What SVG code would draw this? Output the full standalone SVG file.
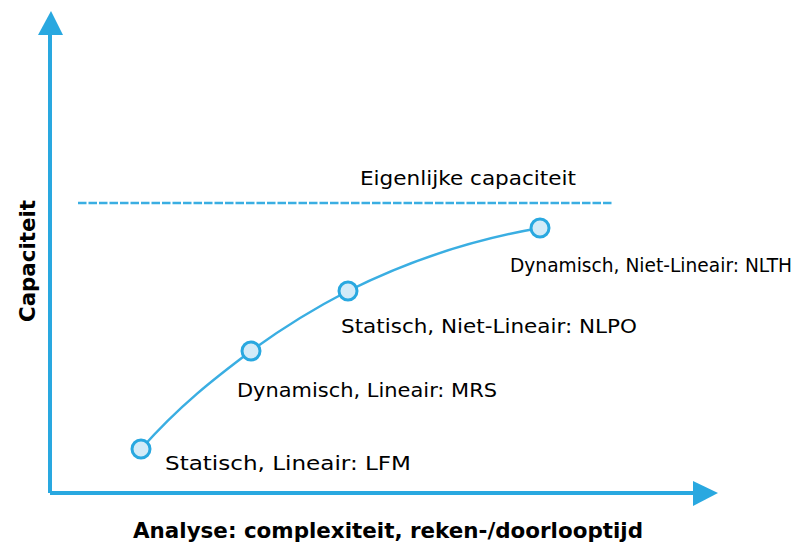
<svg xmlns="http://www.w3.org/2000/svg" width="809" height="546" viewBox="0 0 809 546">
<style>
.ax{stroke:#29a8e0;stroke-width:4;fill:none}
.ah{fill:#29a8e0}
.cur{stroke:#3aaee2;stroke-width:2.5;fill:none}
.dash{stroke:#3aaee2;stroke-width:2.5;stroke-dasharray:8.5 2;fill:none}
.pt{fill:#d3ebf8;stroke:#29a8e0;stroke-width:3}
.t{font-family:"DejaVu Sans","Liberation Sans",sans-serif;font-size:20px;fill:#000}
.b{font-weight:bold;font-size:22px}
</style>
<rect width="809" height="546" fill="#fff"/>
<g id="axes">
<path class="ax" d="M50,493 V34 M50,493 H694"/>
<polygon class="ah" points="51,11 63,35 38,35"/>
<polygon class="ah" points="718,493 693,481 693,506"/>
<text class="t b" x="388" y="538" text-anchor="middle" textLength="510" lengthAdjust="spacingAndGlyphs">Analyse: complexiteit, reken-/doorlooptijd</text>
<text class="t b" transform="translate(35,261) rotate(-90)" text-anchor="middle" textLength="122" lengthAdjust="spacingAndGlyphs">Capaciteit</text>
</g>
<g id="connectors">
<path class="dash" d="M78,203 H612"/>
<path class="cur" d="M141,449 C180,405 215,378 251,351 C285,326 315,308 348,291 C410,260 470,240 540,228"/>
</g>
<g id="eigenlijke">
<text class="t" x="360" y="185" textLength="216" lengthAdjust="spacingAndGlyphs">Eigenlijke capaciteit</text>
</g>
<g id="lfm">
<circle class="pt" cx="141" cy="449" r="9"/>
<text class="t" x="165" y="470" textLength="246" lengthAdjust="spacingAndGlyphs">Statisch, Lineair: LFM</text>
</g>
<g id="mrs">
<circle class="pt" cx="251" cy="351" r="9"/>
<text class="t" x="237" y="397" textLength="260" lengthAdjust="spacingAndGlyphs">Dynamisch, Lineair: MRS</text>
</g>
<g id="nlpo">
<circle class="pt" cx="348" cy="291" r="9"/>
<text class="t" x="341" y="333" textLength="296" lengthAdjust="spacingAndGlyphs">Statisch, Niet-Lineair: NLPO</text>
</g>
<g id="nlth">
<circle class="pt" cx="540" cy="228" r="9"/>
<text class="t" x="792" y="272" text-anchor="end" textLength="282" lengthAdjust="spacingAndGlyphs" style="font-size:19px">Dynamisch, Niet-Lineair: NLTH</text>
</g>
</svg>
